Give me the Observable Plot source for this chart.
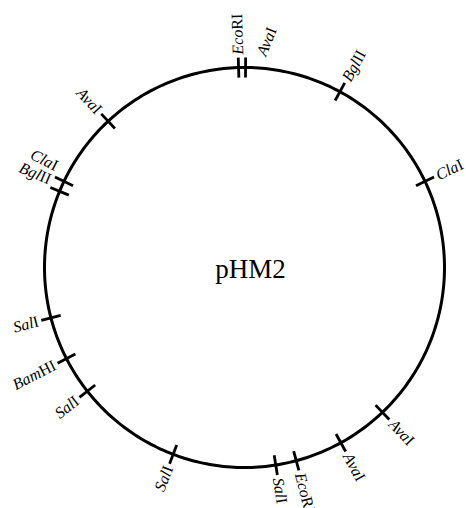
<!DOCTYPE html>
<html>
<head>
<meta charset="utf-8">
<script src="https://cdn.jsdelivr.net/npm/d3@7"></script>
<script src="https://cdn.jsdelivr.net/npm/@observablehq/plot@0.6"></script>
<style>
  html, body { margin: 0; padding: 0; background: #fff; }
</style>
</head>
<body>
<div id="chart"></div>
<script>
// Restriction sites of plasmid pHM2, position as angle (degrees, clockwise from top)
const siteNames  = ["EcoRI", "AvaI", "BglII", "ClaI", "AvaI", "AvaI", "EcoRI", "SalI", "SalI", "SalI", "BamHI", "SalI", "BglII", "ClaI", "AvaI"];
const siteAngles = [-1.7, 0.3, 28.5, 64.5, 136.4, 151.2, 165, 171, 200.9, 231.8, 242.9, 255.4, 292.4, 295.5, 317];
// italic prefix length of each enzyme name (genus/species part)
const italicLen  = [3, 3, 3, 3, 3, 3, 3, 3, 3, 3, 3, 3, 3, 3, 3];
// label placement (angle where the label sits, and direction the text runs)
const labelAngles = [-1.7, 4.5, 28.5, 64.5, 136.4, 151.2, 165, 171, 200.9, 231.8, 242.9, 255.4, 294.3, 298.3, 317];
const labelDirs   = [-1.7, 22, 28.5, 64.5, 136.4, 151.2, 165, 171, 200.9, 231.8, 242.9, 255.4, 293.0, 297.0, 317];
const plasmidName = "pHM2";

const rad = d => d * Math.PI / 180;
const sites = siteNames.map((name, i) => ({
  name, angle: siteAngles[i], ital: italicLen[i],
  la: labelAngles[i], dir: labelDirs[i],
  right: labelDirs[i] > -90 && labelDirs[i] < 180
}));
const circle = d3.range(0, 361, 1).map(a => ({a}));

const tickIn = 0.95, tickOut = 1.05, labelR = 1.065;

const chart = Plot.plot({
  width: 466,
  height: 508,
  margin: 0,
  x: {domain: [-1, 1], range: [44, 444], axis: null},
  y: {domain: [-1, 1], range: [467, 67], axis: null},
  style: {fontFamily: "'Liberation Serif', 'Times New Roman', serif", background: "#fff"},
  marks: [
    Plot.line(circle, {x: d => Math.sin(rad(d.a)), y: d => Math.cos(rad(d.a)), stroke: "#000", strokeWidth: 3}),
    Plot.link(sites, {
      x1: d => tickIn * Math.sin(rad(d.angle)), y1: d => tickIn * Math.cos(rad(d.angle)),
      x2: d => tickOut * Math.sin(rad(d.angle)), y2: d => tickOut * Math.cos(rad(d.angle)),
      stroke: "#000", strokeWidth: 2.8
    }),
    Plot.text(sites.filter(d => d.right), {
      x: d => labelR * Math.sin(rad(d.la)), y: d => labelR * Math.cos(rad(d.la)),
      text: "name", rotate: d => d.dir - 90, textAnchor: "start", fontSize: 16, fill: "#000",
      className: "site-label"
    }),
    Plot.text(sites.filter(d => !d.right), {
      x: d => labelR * Math.sin(rad(d.la)), y: d => labelR * Math.cos(rad(d.la)),
      text: "name", rotate: d => d.dir - 270, textAnchor: "end", fontSize: 16, fill: "#000",
      className: "site-label"
    }),
    Plot.text([plasmidName], {x: () => 0.03, y: () => -0.01, text: d => d, fontSize: 27, fill: "#000"})
  ]
});

// enzyme names: genus part italic, remainder roman
d3.select(chart).selectAll(".site-label text").each(function() {
  const t = d3.select(this);
  const s = t.text();
  t.text("");
  t.append("tspan").attr("font-style", "italic").text(s.slice(0, 3));
  t.append("tspan").attr("font-style", "normal").text(s.slice(3));
});

document.getElementById("chart").appendChild(chart);
</script>
</body>
</html>
